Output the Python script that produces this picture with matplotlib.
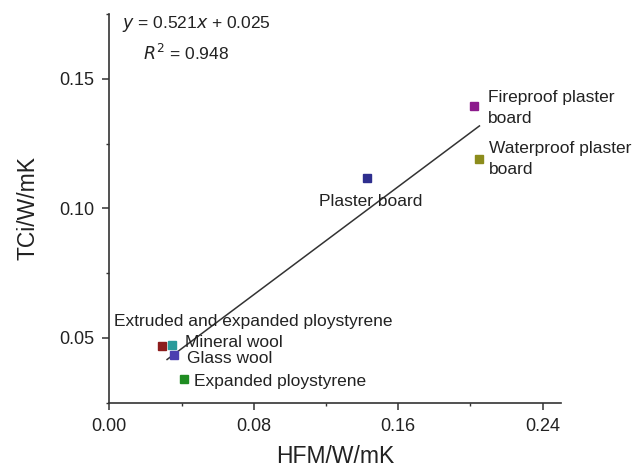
import numpy as np
import matplotlib
matplotlib.use("Agg")
import matplotlib.pyplot as plt
from matplotlib.ticker import MultipleLocator

# data
materials = [
    "Extruded and expanded ploystyrene",
    "Mineral wool",
    "Glass wool",
    "Expanded ploystyrene",
    "Plaster board",
    "Fireproof plaster\nboard",
    "Waterproof plaster\nboard",
]
hfm = [0.029, 0.0348, 0.0361, 0.0415, 0.143, 0.2022, 0.205]
tci = [0.0468, 0.0473, 0.0435, 0.0342, 0.1119, 0.1395, 0.119]
colors = ["#8c1c1c", "#2a9a9a", "#4b3fb0", "#1f8c22", "#2e2e8e", "#8c1a8c", "#8c8c1c"]

slope, intercept, r2 = 0.521, 0.025, 0.948

# label offsets (points) relative to each marker
offsets = [(-34, 18), (9, 2), (9, -3), (7, -2), (-35, -17), (10, -1.5), (7, 0)]

plt.rcParams["font.family"] = ["Liberation Sans", "DejaVu Sans"]

fig = plt.figure(figsize=(6.44, 4.71), dpi=100)
ax = fig.add_axes([0.1697, 0.145, 0.7009, 0.8253])

# regression line over the data range
xs = np.linspace(0.032, max(hfm), 2)
ax.plot(xs, slope * xs + intercept, color="#333333", lw=1.1, zorder=2)

for x, y, c, name, (dx, dy) in zip(hfm, tci, colors, materials, offsets):
    ax.plot(x, y, "s", color=c, ms=5.5, mec=c, zorder=3)
    ax.annotate(name, (x, y), xytext=(dx, dy), textcoords="offset points",
                ha="left", va="center", fontsize=12.5, color="#222222",
                linespacing=1.45)

ax.text(0.028, 0.975, r"$y$ = 0.521$x$ + 0.025", transform=ax.transAxes,
        fontsize=12.5, va="center", ha="left", color="#222222")
ax.text(0.075, 0.9, r"$R^2$ = 0.948", transform=ax.transAxes,
        fontsize=12.5, va="center", ha="left", color="#222222")

ax.set_xlim(0, 0.25)
ax.set_ylim(0.025, 0.175)
ax.xaxis.set_major_locator(MultipleLocator(0.08))
ax.xaxis.set_minor_locator(MultipleLocator(0.04))
ax.yaxis.set_major_locator(MultipleLocator(0.05))
ax.yaxis.set_minor_locator(MultipleLocator(0.025))
ax.xaxis.set_major_formatter(plt.FormatStrFormatter("%.2f"))
ax.yaxis.set_major_formatter(plt.FormatStrFormatter("%.2f"))

for s in ["top", "right"]:
    ax.spines[s].set_visible(False)
for s in ["left", "bottom"]:
    ax.spines[s].set_color("#333333")
    ax.spines[s].set_linewidth(1.2)

ax.tick_params(which="major", length=5, width=1.1, color="#333333",
               labelsize=13, labelcolor="#222222", pad=6)
ax.tick_params(which="minor", length=2.5, width=1.0, color="#333333")

ax.set_xlabel("HFM/W/mK", fontsize=16.5, color="#222222", labelpad=7)
ax.set_ylabel("TCi/W/mK", fontsize=16.5, color="#222222", labelpad=14)

fig.savefig("out.png", dpi=100)
